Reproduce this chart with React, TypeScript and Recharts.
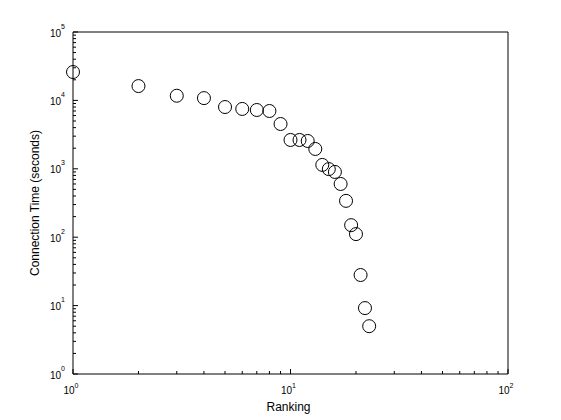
import { ScatterChart, Scatter, XAxis, YAxis, Label } from 'recharts'

// rank of each node and its total connection time
const ranks = [1, 2, 3, 4, 5, 6, 7, 8, 9, 10, 11, 12, 13, 14, 15, 16, 17, 18, 19, 20, 21, 22, 23]
const connectionTime = [
  26000, 16200, 11700, 10800, 8000, 7500, 7240, 7000, 4520, 2640, 2640, 2550, 1950,
  1140, 990, 900, 600, 340, 150, 111, 28, 9.2, 5.0,
]

const xMajorTicks = [1, 10, 100]
const yMajorTicks = [1, 10, 100, 1000, 10000, 100000]

const minorOf = (majors: number[]) =>
  majors.slice(0, -1).flatMap((m) => [2, 3, 4, 5, 6, 7, 8, 9].map((k) => k * m))

const xTicks = [...xMajorTicks, ...minorOf(xMajorTicks)].sort((a, b) => a - b)
const yTicks = [...yMajorTicks, ...minorOf(yMajorTicks)].sort((a, b) => a - b)

const data = ranks.map((rank, i) => ({ rank, time: connectionTime[i] }))

const FONT = '"Liberation Sans", Arial, Helvetica, sans-serif'
const MAJOR = 5
const MINOR = 3

const exponent = (v: number) => Math.round(Math.log10(v))
const isMajor = (v: number, majors: number[]) => majors.includes(v)

// ticks point inward like matlab's boxed axes
const XTick = ({ x, y, payload, side }: any) => {
  const major = isMajor(payload.value, xMajorTicks)
  const len = major ? MAJOR : MINOR
  const dir = side === 'bottom' ? -1 : 1
  return (
    <g>
      <line x1={x} y1={y} x2={x} y2={y + dir * len} stroke="#000" />
      {major && side === 'bottom' && (
        <text x={x - 2} y={y + 20} textAnchor="middle" fontSize={10} fontFamily={FONT} fill="#000">
          10
          <tspan dy={-6} fontSize={7}>
            {exponent(payload.value)}
          </tspan>
        </text>
      )}
    </g>
  )
}

const YTick = ({ x, y, payload, side }: any) => {
  const major = isMajor(payload.value, yMajorTicks)
  const len = major ? MAJOR : MINOR
  const dir = side === 'left' ? 1 : -1
  return (
    <g>
      <line x1={x} y1={y} x2={x + dir * len} y2={y} stroke="#000" />
      {major && side === 'left' && (
        <text x={x - 8} y={y + 4.5} textAnchor="end" fontSize={10} fontFamily={FONT} fill="#000">
          10
          <tspan dy={-8} fontSize={7}>
            {exponent(payload.value)}
          </tspan>
        </text>
      )}
    </g>
  )
}

const XTitle = ({ viewBox }: any) => (
  <text
    x={viewBox.x + viewBox.width / 2 - 2}
    y={viewBox.y + 37}
    textAnchor="middle"
    fontSize={12}
    fontFamily={FONT}
    fill="#000"
  >
    Ranking
  </text>
)

const YTitle = ({ viewBox }: any) => {
  const x = viewBox.x + 38.5
  const y = viewBox.y + viewBox.height / 2
  return (
    <text
      x={x}
      y={y}
      transform={`rotate(-90, ${x}, ${y})`}
      textAnchor="middle"
      fontSize={12}
      fontFamily={FONT}
      fill="#000"
    >
      Connection Time (seconds)
    </text>
  )
}

const Ring = (p: any) => <circle cx={p.cx} cy={p.cy} r={6.5} fill="none" stroke="#000" strokeWidth={1} />

export default function App() {
  return (
    <div style={{ position: 'absolute', left: 0, top: 0, width: 561, height: 420, background: '#fff' }}>
      <ScatterChart width={561} height={420} margin={{ top: 31, right: 52, bottom: 0, left: 0 }}>
        <XAxis
          xAxisId="b"
          dataKey="rank"
          type="number"
          scale="log"
          domain={[1, 100]}
          ticks={xTicks}
          interval={0}
          tickSize={0}
          tickMargin={0}
          tickLine={false}
          tick={<XTick side="bottom" />}
          axisLine={{ stroke: '#000' }}
          height={46}
        >
          <Label content={<XTitle />} />
        </XAxis>
        <XAxis
          xAxisId="t"
          orientation="top"
          type="number"
          scale="log"
          domain={[1, 100]}
          ticks={xTicks}
          interval={0}
          tickSize={0}
          tickMargin={0}
          tickLine={false}
          tick={<XTick side="top" />}
          axisLine={{ stroke: '#000' }}
          height={1}
        />
        <YAxis
          yAxisId="l"
          dataKey="time"
          type="number"
          scale="log"
          domain={[1, 100000]}
          ticks={yTicks}
          interval={0}
          tickSize={0}
          tickMargin={0}
          tickLine={false}
          tick={<YTick side="left" />}
          axisLine={{ stroke: '#000' }}
          width={73}
        >
          <Label content={<YTitle />} />
        </YAxis>
        <YAxis
          yAxisId="r"
          orientation="right"
          type="number"
          scale="log"
          domain={[1, 100000]}
          ticks={yTicks}
          interval={0}
          tickSize={0}
          tickMargin={0}
          tickLine={false}
          tick={<YTick side="right" />}
          axisLine={{ stroke: '#000' }}
          width={1}
        />
        <Scatter
          data={data}
          xAxisId="b"
          yAxisId="l"
          shape={Ring}
          isAnimationActive={false}
        />
      </ScatterChart>
    </div>
  )
}
